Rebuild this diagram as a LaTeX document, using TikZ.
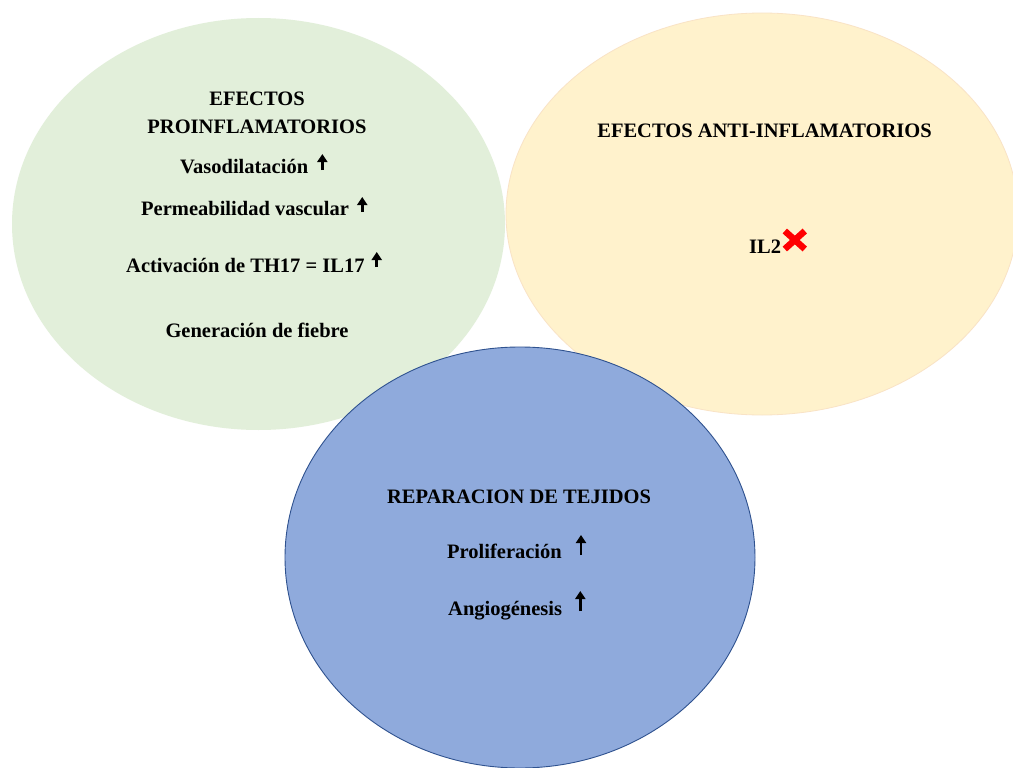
\documentclass[tikz,border=0pt]{standalone}
\usepackage{fontspec}
\setmainfont{Liberation Serif}
\usetikzlibrary{shapes.geometric,arrows.meta}
\definecolor{gfill}{HTML}{E2EFDA}
\definecolor{ofill}{HTML}{FFF2CC}
\definecolor{oline}{HTML}{F9E3C6}
\definecolor{bfill}{HTML}{8FAADC}
\definecolor{bline}{HTML}{2F528F}
\definecolor{xred}{HTML}{FF0000}
\begin{document}
\begin{tikzpicture}[x=1pt,y=-1pt,
  blob/.style={ellipse, inner sep=0pt},
  txt/.style={font=\bfseries\fontsize{20.5}{24}\selectfont, inner sep=0pt, text=black},
  upar/.style={line width=2.6pt, -{Triangle[width=10pt,length=8pt]}},
  xmark/.style={xred, line width=6.5pt, line cap=butt}]
\fill[white] (0,0) rectangle (1013,768);
\useasboundingbox (0,0) rectangle (1013,768);
\clip (0,0) rectangle (1013,768);

% circles
\node[blob, fill=gfill, minimum width=493pt, minimum height=412pt] (pro) at (258.5,224) {};
\node[blob, fill=ofill, draw=oline, line width=0.8pt, minimum width=512pt, minimum height=402pt] (anti) at (762,214) {};
\node[blob, fill=bfill, draw=bline, line width=0.9pt, minimum width=470pt, minimum height=421pt] (rep) at (520,557.5) {};

% pro-inflammatory
\node[txt, anchor=base] (ef1) at (257,106) {EFECTOS};
\node[txt, anchor=base] (ef2) at (257,133) {PROINFLAMATORIOS};
\node[txt, anchor=base west] (vaso) at (180,173) {Vasodilatación};
\node[txt, anchor=base west] (perm) at (141,215) {Permeabilidad vascular};
\node[txt, anchor=base west] (act) at (126,272) {Activación de TH17 = IL17};
\node[txt, anchor=base] (gen) at (257,337) {Generación de fiebre};
\draw[upar] ([xshift=14pt,yshift=3pt]vaso.base east) -- ++(0,-16);
\draw[upar] ([xshift=13pt,yshift=3pt]perm.base east) -- ++(0,-15);
\draw[upar] ([xshift=12pt,yshift=5pt]act.base east) -- ++(0,-15);

% anti-inflammatory
\node[txt, anchor=base] (antit) at (764.5,138) {EFECTOS ANTI-INFLAMATORIOS};
\node[txt, anchor=base west] (il2) at (749,253) {IL2};
\coordinate (xc) at ([xshift=13.5pt,yshift=13pt]il2.base east);
\draw[xmark] (xc) ++(-10,-9) -- ++(20,18);
\draw[xmark] (xc) ++(-10,9) -- ++(20,-18);

% tissue repair
\node[txt, anchor=base] (rept) at (519,503) {REPARACION DE TEJIDOS};
\node[txt, anchor=base west] (prol) at (447,558) {Proliferación};
\node[txt, anchor=base west] (angio) at (448,615) {Angiogénesis};
\draw[upar] ([xshift=19pt,yshift=3pt]prol.base east) -- ++(0,-20);
\draw[upar] ([xshift=18pt,yshift=4pt]angio.base east) -- ++(0,-20);
\end{tikzpicture}
\end{document}
